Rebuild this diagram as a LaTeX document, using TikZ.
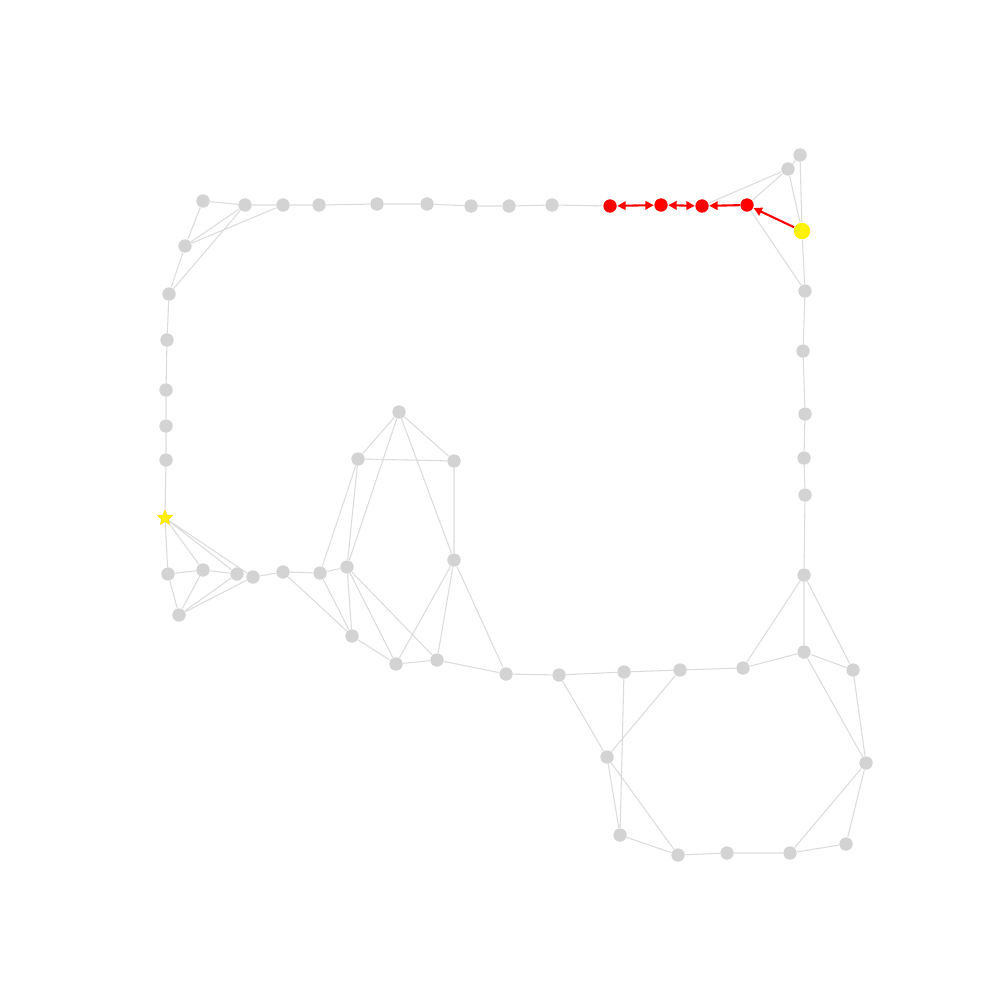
\documentclass[tikz,border=0pt]{standalone}
\usetikzlibrary{arrows.meta,shapes.geometric}
\definecolor{nodegrey}{HTML}{D3D3D3}
\definecolor{edgegrey}{HTML}{DCDCDC}
\tikzset{
  v/.style={circle,fill=nodegrey,inner sep=0pt,minimum size=3.7pt},
  hot/.style={circle,fill=red,inner sep=0pt,minimum size=3.7pt},
  src/.style={circle,fill=yellow,inner sep=0pt,minimum size=4.6pt},
  goal/.style={star,star points=5,star point ratio=2.2,fill=yellow,draw=yellow!85!orange,line width=0.2pt,inner sep=0pt,minimum size=4.2pt},
  e/.style={draw=edgegrey,line width=0.3pt},
  redge/.style={draw=red,line width=0.6pt,-{Triangle[length=2.4pt,width=2.4pt]}},
  redge2/.style={draw=red,line width=0.6pt,{Triangle[length=2.4pt,width=2.4pt]}-{Triangle[length=2.4pt,width=2.4pt]}}
}
\begin{document}
\begin{tikzpicture}[x=0.01cm,y=-0.01cm]
\useasboundingbox[fill=white] (0,0) rectangle (1000,1000);
% top row
\node[v] (t1) at (203,201) {};
\node[v] (t2) at (245,205) {};
\node[v] (t3) at (283,205) {};
\node[v] (t4) at (319,205) {};
\node[v] (t5) at (377,204) {};
\node[v] (t6) at (427,204) {};
\node[v] (t7) at (471,206) {};
\node[v] (t8) at (509,206) {};
\node[v] (t9) at (552,205) {};
\node[hot] (r1) at (610,206) {};
\node[hot] (r2) at (661,205) {};
\node[hot] (r3) at (702,206) {};
\node[hot] (r4) at (747,205) {};
\node[v] (a) at (788,169) {};
\node[v] (b) at (800,155) {};
\node[src] (Y) at (802,231) {};
\node[v] (c) at (805,291) {};
% right column
\node[v] (c1) at (803,351) {};
\node[v] (c2) at (805,414) {};
\node[v] (c3) at (804,458) {};
\node[v] (c4) at (805,495) {};
\node[v] (c5) at (804,575) {};
\node[v] (c6) at (804,652) {};
\node[v] (c7) at (853,670) {};
\node[v] (c8) at (743,668) {};
\node[v] (c9) at (866,763) {};
\node[v] (c10) at (846,844) {};
\node[v] (c11) at (790,853) {};
\node[v] (c12) at (727,853) {};
\node[v] (c13) at (678,855) {};
\node[v] (c14) at (620,835) {};
\node[v] (c15) at (607,757) {};
\node[v] (c16) at (680,670) {};
\node[v] (c17) at (624,672) {};
\node[v] (c18) at (559,675) {};
\node[v] (c19) at (506,674) {};
% left column
\node[v] (l1) at (185,246) {};
\node[v] (l2) at (169,294) {};
\node[v] (l3) at (167,340) {};
\node[v] (l4) at (166,390) {};
\node[v] (l5) at (166,426) {};
\node[v] (l6) at (166,460) {};
\node[goal] (S) at (165,518) {};
% bottom-left cluster
\node[v] (b1) at (168,574) {};
\node[v] (b2) at (203,570) {};
\node[v] (b3) at (237,574) {};
\node[v] (b4) at (253,577) {};
\node[v] (b5) at (179,615) {};
\node[v] (b6) at (283,572) {};
% middle cluster
\node[v] (m1) at (399,412) {};
\node[v] (m2) at (358,459) {};
\node[v] (m3) at (454,461) {};
\node[v] (m4) at (454,560) {};
\node[v] (m5) at (347,567) {};
\node[v] (m6) at (320,573) {};
\node[v] (m7) at (352,636) {};
\node[v] (m8) at (396,664) {};
\node[v] (m9) at (437,660) {};
% grey edges
\begin{scope}[on background layer/.style={}]
\path[e] (t1)--(t2) (t1)--(l1) (l1)--(t2) (l1)--(t3) (t2)--(l2) (l1)--(l2)
 (t2)--(t3) (t3)--(t4) (t4)--(t5) (t5)--(t6) (t6)--(t7) (t7)--(t8) (t8)--(t9) (t9)--(r1)
 (a)--(r3) (a)--(r4) (a)--(b) (a)--(Y) (b)--(Y) (r4)--(c) (Y)--(c)
 (c)--(c1) (c1)--(c2) (c2)--(c3) (c3)--(c4) (c4)--(c5)
 (c5)--(c8) (c5)--(c6) (c5)--(c7) (c6)--(c8) (c6)--(c7) (c6)--(c9) (c7)--(c9)
 (c9)--(c10) (c9)--(c11) (c10)--(c11) (c11)--(c12) (c12)--(c13)
 (c13)--(c14) (c13)--(c15) (c14)--(c15) (c14)--(c17) (c15)--(c18) (c15)--(c16)
 (c17)--(c16) (c18)--(c17) (c16)--(c8) (c19)--(c18)
 (l2)--(l3) (l3)--(l4) (l4)--(l5) (l5)--(l6) (l6)--(S)
 (S)--(b1) (S)--(b2) (S)--(b3) (S)--(b4) (b1)--(b2) (b1)--(b5) (b2)--(b3)
 (b2)--(b5) (b5)--(b3) (b5)--(b4) (b4)--(b6)
 (m1)--(m2) (m1)--(m3) (m1)--(m5) (m1)--(m4) (m2)--(m3) (m2)--(m6) (m2)--(m5)
 (m3)--(m4) (m4)--(m8) (m4)--(m9) (m4)--(c19)
 (m5)--(m6) (m5)--(m7) (m5)--(m8) (m5)--(m9) (m6)--(m7) (m7)--(m8) (m8)--(m9) (m9)--(c19)
 (b6)--(m6) (b6)--(m7);
\end{scope}
% red path
\draw[redge2] (r1)--(r2);
\draw[redge2] (r2)--(r3);
\draw[redge] (r4)--(r3);
\draw[redge] (Y)--(r4);
% redraw nodes on top
\foreach \n in {t1,t2,t3,t4,t5,t6,t7,t8,t9,a,b,c,c1,c2,c3,c4,c5,c6,c7,c8,c9,c10,c11,c12,c13,c14,c15,c16,c17,c18,c19,l1,l2,l3,l4,l5,l6,b1,b2,b3,b4,b5,b6,m1,m2,m3,m4,m5,m6,m7,m8,m9}
  \fill[nodegrey] (\n) circle (1.85pt);
\foreach \n in {r1,r2,r3,r4} \fill[red] (\n) circle (1.85pt);
\fill[yellow] (Y) circle (2.3pt);
\node[goal] at (S) {};
\end{tikzpicture}
\end{document}
